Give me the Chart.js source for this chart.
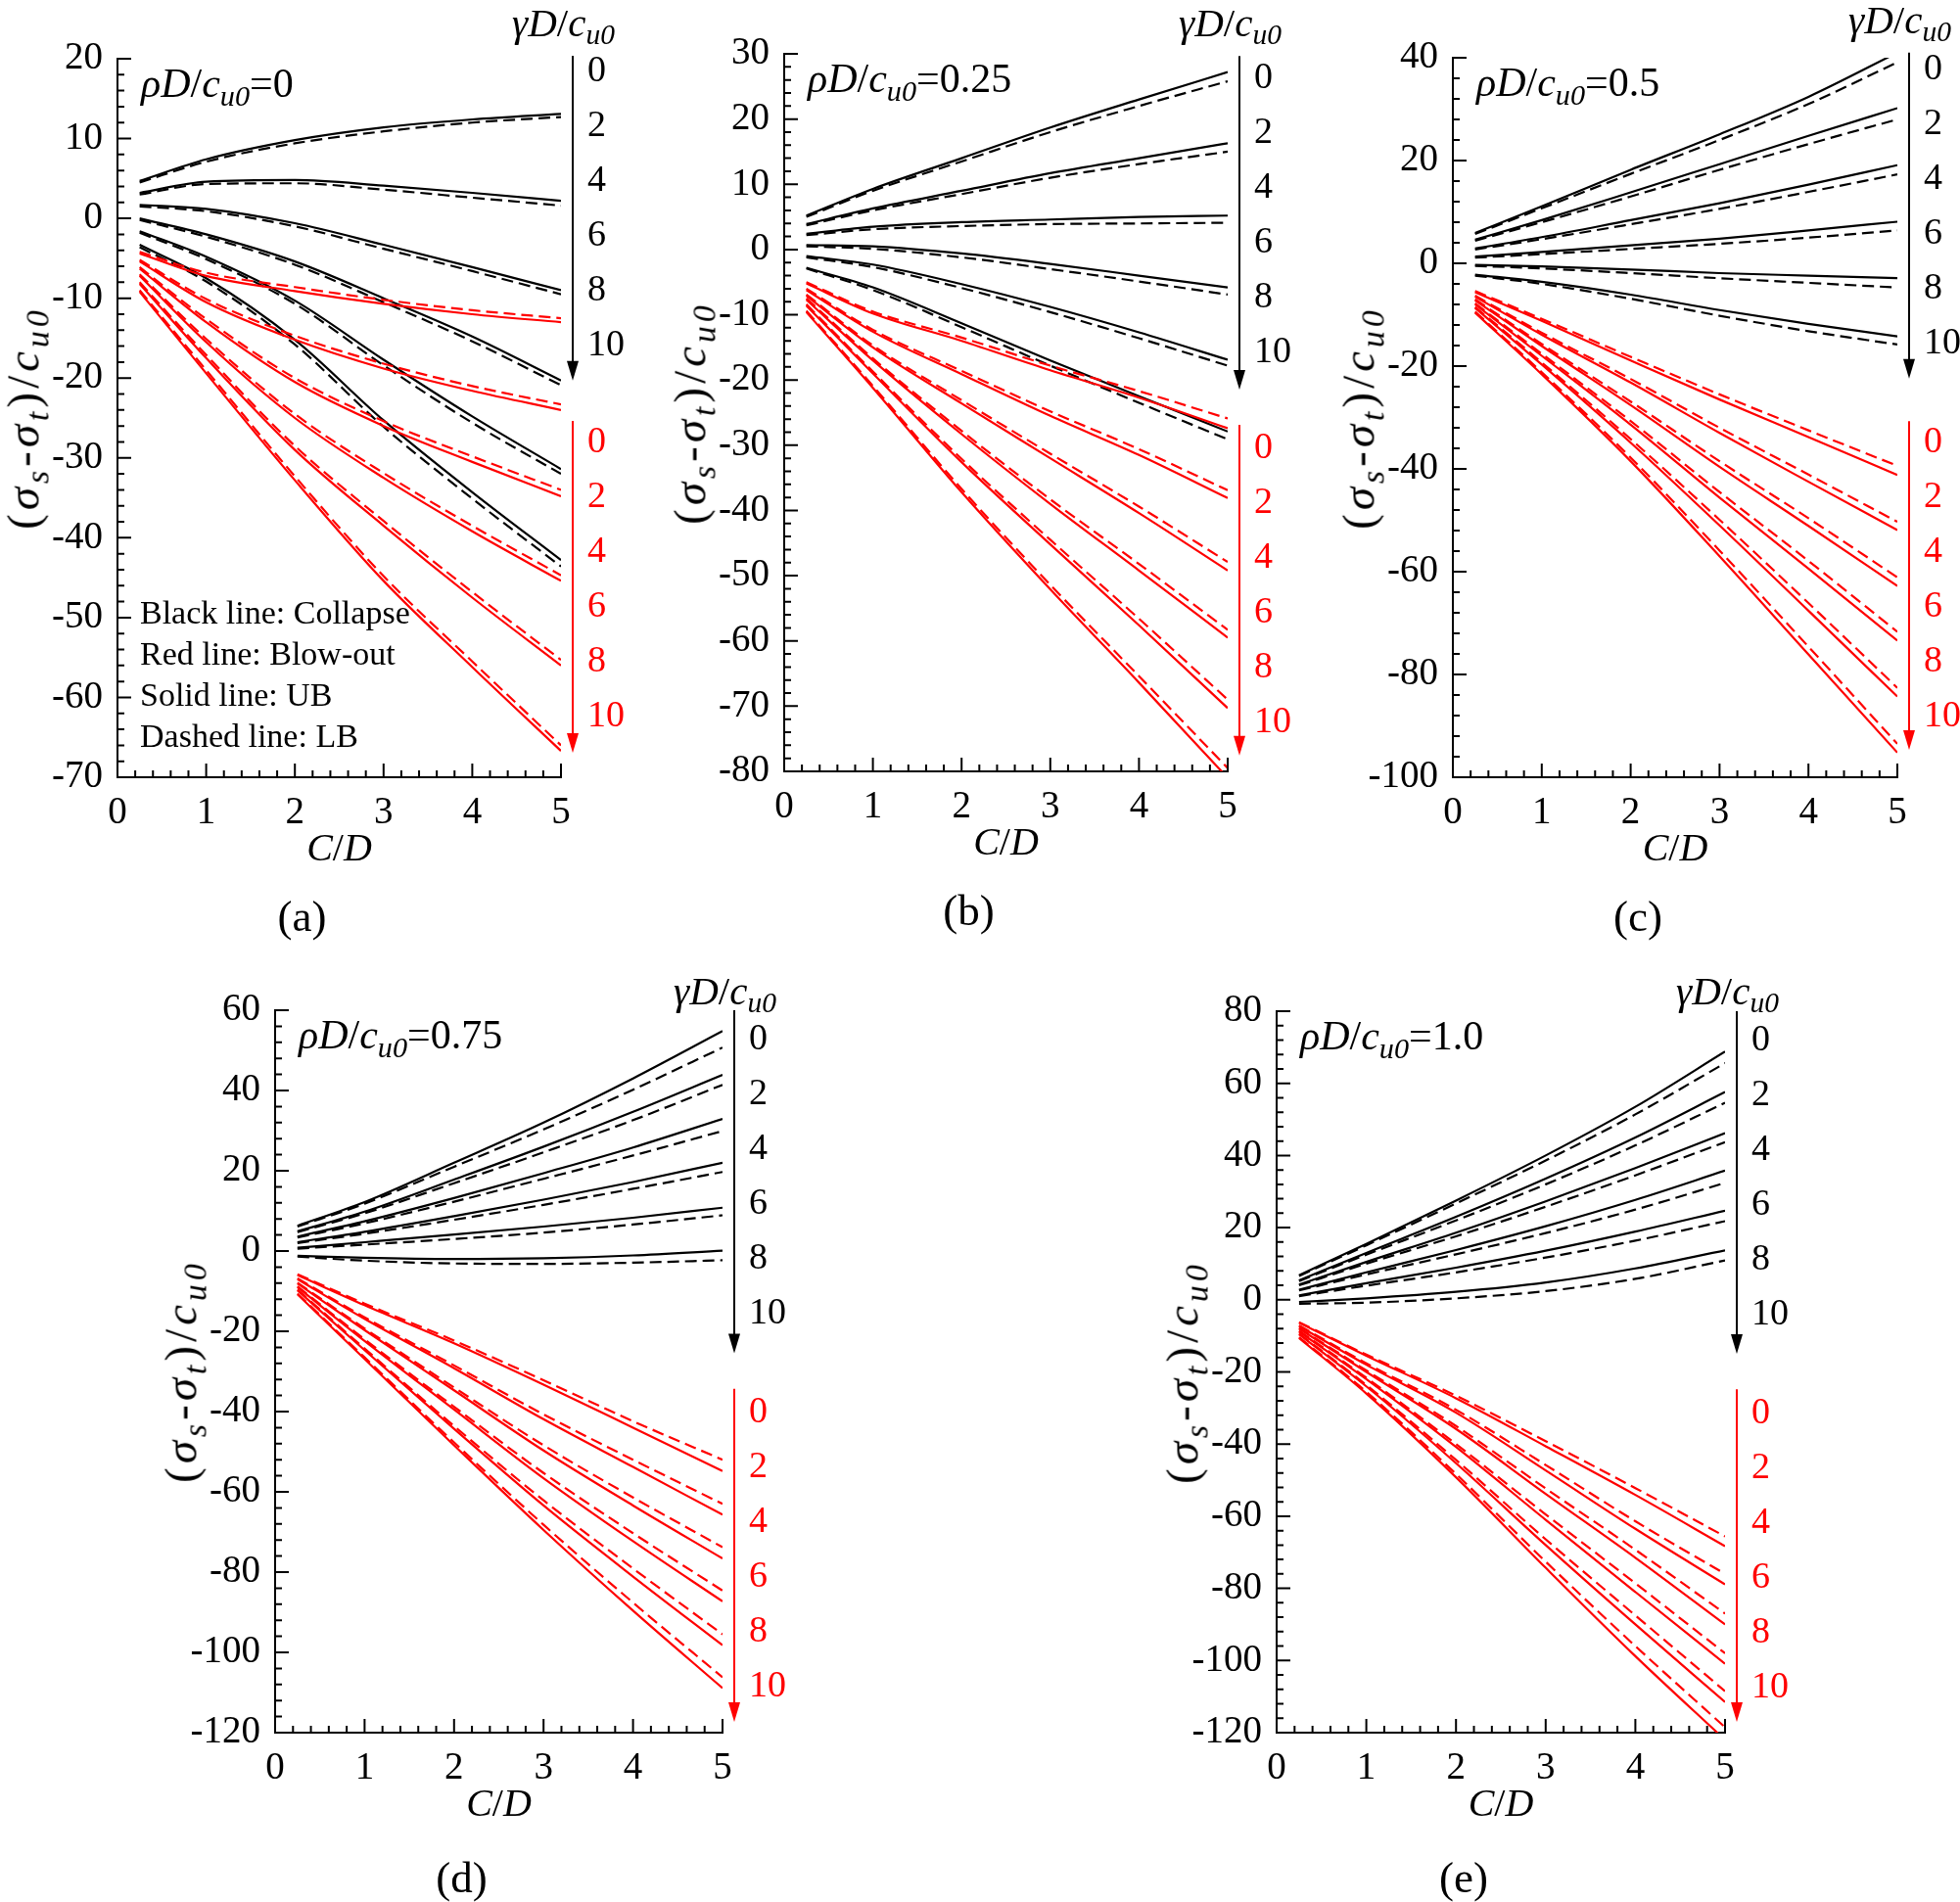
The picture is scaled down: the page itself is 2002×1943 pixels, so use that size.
<!DOCTYPE html>
<html>
<head>
<meta charset="utf-8">
<title>Collapse / blow-out pressure vs C/D</title>
<script src="https://cdn.jsdelivr.net/npm/chart.js@4.4.1/dist/chart.umd.min.js"></script>
<style>
  html, body { margin: 0; background: #fff; }
  body { position: relative; width: 2002px; height: 1943px; overflow: hidden;
         font-family: "Liberation Serif", "Times New Roman", serif; color: #000; }
  canvas { position: absolute; }
  .t { position: absolute; white-space: nowrap; line-height: 1; }
  .t sub { font-size: 0.72em; vertical-align: -0.3em; line-height: 0; }
  .red { color: #f00; }
  .ytitle { letter-spacing: 4px; }
</style>
</head>
<body>
<script>
'use strict';

/* ── data ── */
const CD = [0.25, 1, 2, 3, 4, 5];
const GAMMA = ['0', '2', '4', '6', '8', '10'];
const RHO = ['0', '0.25', '0.5', '0.75', '1.0'];
const TAGS = ['(a)', '(b)', '(c)', '(d)', '(e)'];
const Y_RANGE = [[-70, 20], [-80, 30], [-100, 40], [-120, 60], [-120, 80]];
const Y_MINOR = [2, 2, 4, 4, 4];
const Y_MAJOR = [10, 10, 20, 20, 20];
const X_MINOR = 0.2;
const X_MAJOR = 1;

/* (a) rho D/cu0 = 0 */
const a_colUB = [
  [4.7, 7.4, 9.8, 11.4, 12.4, 13.1],
  [3.2, 4.6, 4.8, 4.1, 3.2, 2.2],
  [1.7, 1.2, -0.6, -3.3, -6.1, -9.0],
  [0.0, -2.0, -5.4, -10.0, -14.8, -20.3],
  [-1.6, -4.8, -10.3, -17.7, -24.8, -31.4],
  [-3.3, -7.5, -15.2, -25.3, -34.3, -42.8]];
const a_colLB = [
  [4.5, 7.1, 9.4, 10.9, 12.0, 12.7],
  [3.0, 4.3, 4.4, 3.6, 2.6, 1.6],
  [1.5, 0.9, -1.0, -3.8, -6.6, -9.5],
  [-0.2, -2.3, -5.8, -10.5, -15.4, -20.9],
  [-1.8, -5.1, -10.7, -18.4, -25.6, -32.0],
  [-3.6, -7.9, -15.8, -26.1, -35.1, -43.6]];
const a_blowUB = [
  [-4.4, -7.2, -9.1, -10.7, -12.0, -13.0],
  [-5.4, -10.5, -15.2, -18.8, -21.6, -24.0],
  [-6.3, -13.0, -20.5, -26.0, -30.5, -34.8],
  [-7.2, -15.5, -25.0, -32.5, -39.2, -45.4],
  [-8.2, -17.5, -29.0, -38.5, -47.5, -56.0],
  [-9.2, -19.4, -32.8, -45.4, -56.2, -66.7]];
const a_blowLB = [
  [-4.2, -6.8, -8.6, -10.2, -11.5, -12.5],
  [-5.2, -10.1, -14.7, -18.2, -21.0, -23.3],
  [-6.1, -12.6, -20.0, -25.4, -29.8, -34.0],
  [-7.0, -15.1, -24.5, -31.9, -38.5, -44.7],
  [-8.0, -17.1, -28.5, -37.9, -46.8, -55.3],
  [-9.0, -19.0, -32.3, -44.8, -55.5, -66.0]];

/* (b) rho D/cu0 = 0.25 */
const b_colUB = [
  [5.2, 9.3, 14.0, 18.7, 23.0, 27.2],
  [3.9, 6.3, 9.0, 11.7, 14.0, 16.3],
  [2.4, 3.5, 4.2, 4.6, 5.0, 5.2],
  [0.7, 0.5, -0.6, -2.2, -4.0, -5.8],
  [-1.0, -2.3, -5.3, -8.8, -12.7, -16.9],
  [-2.8, -5.8, -11.3, -17.0, -22.5, -27.9]];
const b_colLB = [
  [5.0, 9.0, 13.5, 18.0, 22.0, 25.8],
  [3.7, 6.0, 8.5, 11.0, 13.1, 15.0],
  [2.2, 3.1, 3.6, 3.9, 4.0, 4.1],
  [0.5, 0.1, -1.2, -3.0, -4.9, -6.9],
  [-1.2, -2.7, -5.9, -9.6, -13.6, -17.8],
  [-2.9, -6.2, -11.9, -17.8, -23.5, -29.1]];
const b_blowUB = [
  [-5.2, -9.8, -14.0, -18.5, -22.7, -27.4],
  [-6.2, -12.6, -19.1, -25.5, -31.5, -38.1],
  [-7.1, -15.0, -23.6, -32.0, -40.4, -49.2],
  [-7.7, -17.0, -28.3, -39.0, -49.2, -59.5],
  [-8.6, -19.0, -32.6, -45.2, -57.6, -70.3],
  [-9.6, -21.2, -37.2, -52.1, -66.4, -81.0]];
const b_blowLB = [
  [-5.0, -9.5, -13.5, -17.8, -21.7, -25.9],
  [-6.0, -12.3, -18.6, -24.8, -30.6, -36.9],
  [-6.9, -14.7, -23.1, -31.3, -39.4, -47.9],
  [-7.5, -16.7, -27.8, -38.3, -48.2, -58.3],
  [-8.4, -18.7, -32.1, -44.5, -56.6, -69.0],
  [-9.4, -20.9, -36.7, -51.4, -65.4, -79.5]];

/* (c) rho D/cu0 = 0.5 */
const c_colUB = [
  [5.9, 11.1, 18.2, 25.1, 32.4, 41.0],
  [4.6, 8.4, 13.8, 19.3, 24.8, 30.2],
  [2.9, 5.1, 8.4, 11.7, 15.3, 19.1],
  [1.3, 2.2, 3.5, 4.8, 6.4, 8.1],
  [-0.3, -0.6, -1.2, -1.9, -2.4, -2.9],
  [-2.2, -3.6, -6.1, -9.1, -11.8, -14.2]];
const c_colLB = [
  [5.7, 10.7, 17.4, 24.0, 31.0, 39.1],
  [4.4, 8.0, 13.0, 18.2, 23.2, 28.0],
  [2.7, 4.7, 7.6, 10.6, 13.9, 17.3],
  [1.1, 1.8, 2.8, 3.8, 5.0, 6.4],
  [-0.5, -1.0, -1.9, -2.9, -3.8, -4.7],
  [-2.4, -4.0, -6.9, -10.2, -13.2, -15.8]];
const c_blowUB = [
  [-5.6, -11.2, -18.9, -26.5, -33.8, -41.2],
  [-6.5, -13.9, -23.2, -33.0, -42.5, -51.9],
  [-7.2, -16.1, -27.6, -39.6, -51.1, -62.8],
  [-8.0, -18.0, -31.4, -45.6, -59.4, -73.4],
  [-8.7, -19.7, -34.9, -51.0, -67.6, -84.3],
  [-9.6, -21.6, -38.5, -57.0, -76.1, -95.2]];
const c_blowLB = [
  [-5.4, -10.8, -18.2, -25.5, -32.5, -39.4],
  [-6.3, -13.5, -22.5, -32.0, -41.1, -50.3],
  [-7.0, -15.7, -26.9, -38.5, -49.6, -61.1],
  [-7.8, -17.6, -30.7, -44.5, -57.9, -71.7],
  [-8.5, -19.3, -34.2, -49.9, -66.1, -82.6],
  [-9.4, -21.2, -37.8, -55.9, -74.6, -93.5]];

/* (d) rho D/cu0 = 0.75 */
const d_colUB = [
  [6.3, 12.2, 22.0, 32.0, 43.0, 54.8],
  [4.9, 9.8, 17.8, 26.0, 34.7, 43.9],
  [3.6, 7.4, 13.2, 19.4, 25.8, 32.9],
  [2.2, 4.8, 8.7, 12.8, 17.2, 22.0],
  [0.8, 2.2, 4.1, 6.1, 8.3, 10.8],
  [-1.2, -1.7, -2.0, -1.8, -1.1, 0.1]];
const d_colLB = [
  [6.1, 11.8, 21.0, 30.3, 40.2, 50.7],
  [4.7, 9.4, 16.9, 24.6, 32.6, 41.4],
  [3.4, 6.9, 12.3, 18.0, 23.8, 29.9],
  [2.0, 4.3, 7.8, 11.5, 15.5, 19.7],
  [0.6, 1.6, 3.0, 4.6, 6.6, 8.9],
  [-1.4, -2.4, -3.1, -3.2, -2.9, -2.3]];
const d_blowUB = [
  [-6.0, -13.5, -23.0, -33.3, -44.0, -54.8],
  [-7.0, -16.9, -29.2, -41.9, -53.8, -65.7],
  [-8.1, -19.7, -34.7, -49.7, -63.4, -76.6],
  [-9.0, -22.4, -39.5, -56.6, -72.3, -87.3],
  [-9.8, -24.7, -44.3, -63.4, -81.1, -98.2],
  [-10.8, -26.9, -48.4, -69.5, -89.6, -108.9]];
const d_blowLB = [
  [-5.8, -13.1, -22.3, -32.2, -42.4, -52.0],
  [-6.8, -16.5, -28.5, -40.7, -52.0, -63.0],
  [-7.9, -19.3, -34.0, -48.4, -61.4, -73.8],
  [-8.8, -22.0, -38.8, -55.3, -70.3, -84.6],
  [-9.6, -24.3, -43.6, -62.1, -79.1, -95.5],
  [-10.6, -26.5, -47.7, -68.2, -87.6, -106.2]];

/* (e) rho D/cu0 = 1.0 */
const e_colUB = [
  [6.8, 15.5, 27.5, 40.0, 53.5, 68.8],
  [5.4, 13.0, 23.0, 33.6, 45.0, 57.6],
  [4.2, 10.5, 18.6, 27.3, 36.5, 46.2],
  [2.8, 7.6, 13.8, 20.4, 27.7, 35.8],
  [1.2, 4.6, 8.9, 13.6, 18.9, 24.7],
  [-0.6, 0.4, 2.2, 4.8, 8.7, 13.7]];
const e_colLB = [
  [6.6, 15.1, 26.7, 38.6, 51.4, 65.6],
  [5.2, 12.5, 22.0, 32.0, 42.8, 54.6],
  [4.0, 10.0, 17.6, 25.8, 34.5, 43.7],
  [2.6, 7.0, 12.6, 18.5, 25.0, 32.4],
  [1.0, 3.9, 7.6, 11.7, 16.4, 21.8],
  [-1.1, -0.8, 0.4, 2.4, 5.8, 10.9]];
const e_blowUB = [
  [-6.4, -15.5, -27.3, -40.6, -54.1, -68.3],
  [-7.3, -18.0, -31.3, -47.3, -63.5, -78.9],
  [-8.0, -20.0, -35.8, -53.8, -71.5, -90.0],
  [-8.8, -22.0, -40.8, -61.0, -81.0, -100.9],
  [-9.6, -24.0, -45.3, -68.0, -90.0, -111.5],
  [-10.6, -26.0, -49.2, -74.3, -98.8, -122.0]];
const e_blowLB = [
  [-6.2, -15.2, -26.6, -39.2, -52.2, -65.6],
  [-7.1, -17.6, -30.5, -45.8, -61.4, -76.0],
  [-7.8, -19.6, -35.0, -52.3, -69.3, -87.0],
  [-8.6, -21.6, -40.0, -59.5, -78.6, -98.0],
  [-9.4, -23.6, -44.4, -66.4, -87.5, -108.5],
  [-10.4, -25.5, -48.3, -72.6, -96.0, -118.5]];

const PANEL_DATA = [
  [a_colUB, a_colLB, a_blowUB, a_blowLB],
  [b_colUB, b_colLB, b_blowUB, b_blowLB],
  [c_colUB, c_colLB, c_blowUB, c_blowLB],
  [d_colUB, d_colLB, d_blowUB, d_blowLB],
  [e_colUB, e_colLB, e_blowUB, e_blowLB]];

/* ── layout: plot areas in page pixels ── */
const BOX = [
  { l: 120,  t: 60,   r: 573,  b: 794 },
  { l: 801,  t: 55,   r: 1254, b: 788 },
  { l: 1484, t: 59,   r: 1938, b: 794 },
  { l: 281,  t: 1032, r: 738,  b: 1770 },
  { l: 1304, t: 1033, r: 1762, b: 1770 }];
/* arrows as fractions of plot height: [black from, to, red from, to] */
const ARROW = [
  [-0.004, 0.448, 0.504, 0.966],
  [0.003, 0.468, 0.517, 0.978],
  [-0.007, 0.446, 0.505, 0.962],
  [0.0, 0.475, 0.524, 0.985],
  [0.0, 0.475, 0.524, 0.985]];
const NUM_Y0 = [[10, 389], [22, 400], [9, 390], [27, 408], [27, 408]];
const HEAD_DY = [-37, -32, -39, -20, -21];
const LM = 130, TM = 40, RM = 110, BM = 70;

const BLACK = '#000000', RED = '#ff0000';
const near = (v, step) => Math.abs(v / step - Math.round(v / step)) < 1e-6;

Chart.defaults.font.family = '"Liberation Serif", "Times New Roman", serif';
Chart.defaults.color = '#000';

/* inward tick marks + gamma arrows */
const decor = {
  id: 'decor',
  afterDraw(chart, args, o) {
    const { ctx, chartArea: a, scales: { x, y } } = chart;
    ctx.save();
    ctx.strokeStyle = BLACK;
    ctx.lineWidth = 2;
    ctx.beginPath();
    x.ticks.forEach(t => {
      const p = x.getPixelForValue(t.value);
      const len = near(t.value, X_MAJOR) ? 14 : 7;
      ctx.moveTo(p, a.bottom); ctx.lineTo(p, a.bottom - len);
    });
    y.ticks.forEach(t => {
      const p = y.getPixelForValue(t.value);
      const len = near(t.value, o.major) ? 14 : 7;
      ctx.moveTo(a.left, p); ctx.lineTo(a.left + len, p);
    });
    ctx.stroke();

    const ax = a.right + 12, h = a.bottom - a.top;
    [[o.arrow[0], o.arrow[1], BLACK], [o.arrow[2], o.arrow[3], RED]].forEach(([f0, f1, col]) => {
      const y0 = a.top + f0 * h, y1 = a.top + f1 * h;
      ctx.strokeStyle = col; ctx.fillStyle = col;
      ctx.beginPath(); ctx.moveTo(ax, y0); ctx.lineTo(ax, y1 - 16); ctx.stroke();
      ctx.beginPath();
      ctx.moveTo(ax - 6, y1 - 20); ctx.lineTo(ax + 6, y1 - 20); ctx.lineTo(ax, y1);
      ctx.closePath(); ctx.fill();
    });
    ctx.restore();
  }
};

function lines(sets, color, dashed) {
  return sets.map(vals => ({
    data: CD.map((x, i) => ({ x, y: vals[i] })),
    borderColor: color,
    borderWidth: 2.2,
    borderDash: dashed ? [12, 6] : [],
    pointRadius: 0,
    fill: false,
    cubicInterpolationMode: 'monotone'
  }));
}

function addText(html, left, top, size, cls, extra) {
  const d = document.createElement('div');
  d.className = 't' + (cls ? ' ' + cls : '');
  d.innerHTML = html;
  d.style.left = left + 'px';
  d.style.top = top + 'px';
  d.style.fontSize = size + 'px';
  d.style.transform = extra || 'translate(0,-50%)';
  document.body.appendChild(d);
}

BOX.forEach((bx, k) => {
  const W = bx.r - bx.l + LM + RM, H = bx.b - bx.t + TM + BM;
  const cv = document.createElement('canvas');
  cv.width = W; cv.height = H;
  cv.style.left = (bx.l - LM) + 'px';
  cv.style.top = (bx.t - TM) + 'px';
  cv.style.width = W + 'px'; cv.style.height = H + 'px';
  document.body.appendChild(cv);

  const [colUB, colLB, blowUB, blowLB] = PANEL_DATA[k];
  new Chart(cv, {
    type: 'line',
    data: {
      datasets: [
        ...lines(blowLB, RED, true), ...lines(blowUB, RED, false),
        ...lines(colLB, BLACK, true), ...lines(colUB, BLACK, false)]
    },
    options: {
      responsive: false,
      animation: false,
      devicePixelRatio: 1,
      events: [],
      layout: { padding: { left: 0, top: TM, right: RM, bottom: 0 } },
      plugins: {
        legend: { display: false },
        tooltip: { enabled: false },
        decor: { major: Y_MAJOR[k], arrow: ARROW[k] }
      },
      scales: {
        x: {
          type: 'linear', min: 0, max: 5,
          grid: { display: false, drawTicks: false },
          border: { display: true, color: BLACK, width: 2 },
          afterFit: s => { s.height = BM; },
          ticks: {
            stepSize: X_MINOR, autoSkip: false, maxRotation: 0, padding: 13,
            font: { size: 39 },
            callback: v => near(v, X_MAJOR) ? String(Math.round(v)) : ''
          }
        },
        y: {
          type: 'linear', min: Y_RANGE[k][0], max: Y_RANGE[k][1],
          grid: { display: false, drawTicks: false },
          border: { display: true, color: BLACK, width: 2 },
          afterFit: s => { s.width = LM; },
          ticks: {
            stepSize: Y_MINOR[k], autoSkip: false, padding: 15,
            font: { size: 39 },
            callback: v => near(v, Y_MAJOR[k]) ? String(Math.round(v)) : ''
          }
        }
      }
    },
    plugins: [decor]
  });

  /* text around the plot */
  const cx = (bx.l + bx.r) / 2, cy = (bx.t + bx.b) / 2;
  addText('<i>C</i>/<i>D</i>', cx, bx.b + 72, 40, '', 'translate(-50%,-50%)');
  addText('(<i>σ</i><sub><i>s</i></sub>-<i>σ</i><sub><i>t</i></sub>)/<i>c</i><sub><i>u0</i></sub>',
          bx.l - 96, cy, 47, 'ytitle', 'translate(-50%,-50%) rotate(-90deg)');
  addText('<i>ρD</i>/<i>c</i><sub><i>u0</i></sub>=' + RHO[k], bx.l + 24, bx.t + 25, 42);
  addText('<i>γD</i>/<i>c</i><sub><i>u0</i></sub>', bx.r - 50, bx.t + HEAD_DY[k], 41);
  GAMMA.forEach((g, i) => {
    addText(g, bx.r + 27, bx.t + NUM_Y0[k][0] + i * 56, 38);
    addText(g, bx.r + 27, bx.t + NUM_Y0[k][1] + i * 56, 38, 'red');
  });
  addText(TAGS[k], cx - 38, bx.b + (k < 3 ? 142 : 148), 45, '', 'translate(-50%,-50%)');
});

/* key in panel (a) */
['Black line: Collapse', 'Red line: Blow-out', 'Solid line: UB', 'Dashed line: LB']
  .forEach((s, i) => addText(s, 143, 626 + i * 42, 34));
</script>
</body>
</html>
